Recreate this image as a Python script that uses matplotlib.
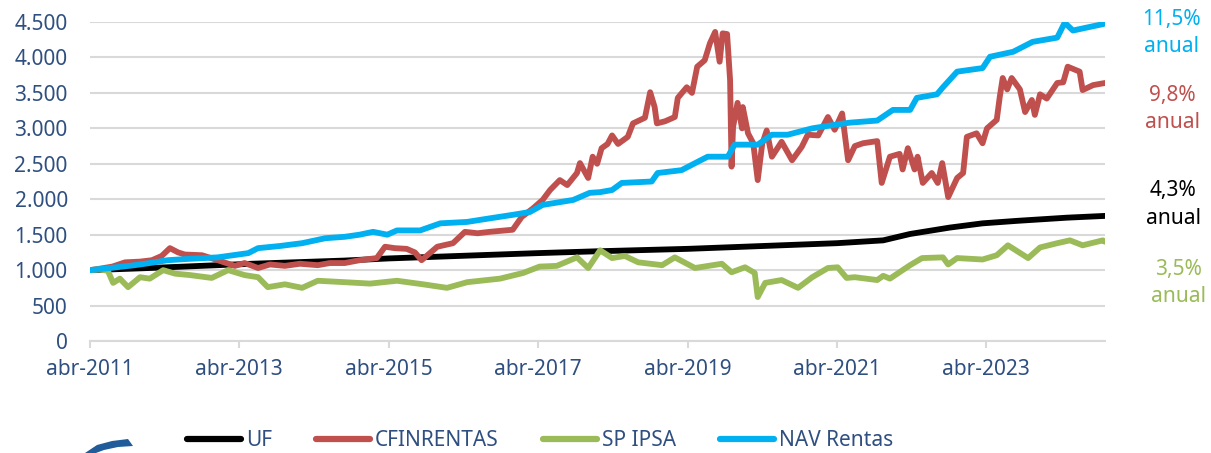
import numpy as np
import matplotlib.pyplot as plt
from matplotlib.patches import Polygon

# Series values (x in decimal years)
uf_t = [2011.25, 2012.05, 2013.42, 2014.66, 2015.25, 2017.25, 2018.01, 2019.25,
        2021.25, 2021.87, 2022.23, 2022.76, 2023.20, 2023.66, 2024.33, 2024.84]
uf_v = [1000, 1030, 1090, 1135, 1165, 1240, 1265, 1300,
        1380, 1420, 1510, 1600, 1660, 1695, 1740, 1765]

cf_t = [2011.25, 2011.38, 2011.55, 2011.72, 2011.92, 2012.08, 2012.21, 2012.32, 2012.43, 2012.52,
        2012.75, 2012.96, 2013.19, 2013.32, 2013.50, 2013.66, 2013.86, 2014.06, 2014.30, 2014.46,
        2014.66, 2014.86, 2015.09, 2015.20, 2015.33, 2015.49, 2015.60, 2015.69, 2015.90, 2016.11,
        2016.27, 2016.44, 2016.60, 2016.91, 2017.03, 2017.18, 2017.31, 2017.41, 2017.54, 2017.64,
        2017.77, 2017.81, 2017.92, 2017.98, 2018.04, 2018.10, 2018.18, 2018.24, 2018.32, 2018.45,
        2018.52, 2018.68, 2018.75, 2018.81, 2018.84, 2018.95, 2019.08, 2019.12, 2019.24, 2019.31,
        2019.38, 2019.48, 2019.55, 2019.62, 2019.68, 2019.72, 2019.78, 2019.82, 2019.84, 2019.86,
        2019.92, 2019.98, 2019.99, 2020.06, 2020.13, 2020.19, 2020.25, 2020.31, 2020.38, 2020.51,
        2020.65, 2020.78, 2020.86, 2021.00, 2021.13, 2021.22, 2021.32, 2021.40, 2021.49, 2021.60,
        2021.79, 2021.85, 2021.96, 2022.09, 2022.13, 2022.20, 2022.29, 2022.33, 2022.40, 2022.52,
        2022.60, 2022.66, 2022.74, 2022.86, 2022.94, 2022.99, 2023.12, 2023.20, 2023.26, 2023.39,
        2023.43, 2023.47, 2023.53, 2023.59, 2023.70, 2023.77, 2023.86, 2023.90, 2023.97, 2024.06,
        2024.20, 2024.28, 2024.34, 2024.50, 2024.54, 2024.68, 2024.84]
cf_v = [1000, 1020, 1050, 1110, 1120, 1140, 1200, 1310, 1250, 1220,
        1210, 1140, 1060, 1100, 1030, 1080, 1060, 1090, 1070, 1100,
        1100, 1140, 1170, 1330, 1310, 1300, 1250, 1140, 1330, 1380,
        1540, 1520, 1540, 1570, 1750, 1870, 1990, 2130, 2270, 2200,
        2370, 2510, 2300, 2600, 2500, 2720, 2780, 2900, 2780, 2880,
        3070, 3150, 3510, 3300, 3070, 3100, 3160, 3430, 3580, 3500,
        3870, 3960, 4200, 4360, 3940, 4340, 4330, 3680, 2460, 3020,
        3360, 3000, 3300, 2930, 2790, 2270, 2780, 2970, 2600, 2810,
        2550, 2740, 2910, 2900, 3160, 2980, 3210, 2550, 2750, 2790,
        2820, 2230, 2600, 2640, 2420, 2720, 2420, 2600, 2230, 2370,
        2230, 2510, 2030, 2300, 2370, 2880, 2930, 2790, 3000, 3120,
        3440, 3710, 3550, 3710, 3550, 3230, 3400, 3190, 3480, 3420,
        3640, 3650, 3870, 3800, 3540, 3610, 3640]

ipsa_t = [2011.25, 2011.38, 2011.49, 2011.56, 2011.65, 2011.76, 2011.92, 2012.05, 2012.23, 2012.39,
          2012.59, 2012.88, 2013.10, 2013.32, 2013.50, 2013.63, 2013.86, 2014.09, 2014.30, 2014.66,
          2015.00, 2015.36, 2015.71, 2016.03, 2016.30, 2016.74, 2017.05, 2017.27, 2017.50, 2017.77,
          2017.92, 2018.08, 2018.24, 2018.41, 2018.59, 2018.91, 2019.08, 2019.35, 2019.71, 2019.84,
          2020.02, 2020.15, 2020.19, 2020.29, 2020.51, 2020.73, 2020.92, 2021.13, 2021.26, 2021.38,
          2021.49, 2021.79, 2021.87, 2021.96, 2022.23, 2022.39, 2022.67, 2022.74, 2022.86, 2023.20,
          2023.39, 2023.54, 2023.81, 2023.97, 2024.20, 2024.37, 2024.54, 2024.81, 2024.84]
ipsa_v = [1000, 1010, 990, 820, 880, 760, 900, 880, 1000, 950,
          930, 890, 1000, 930, 900, 760, 800, 750, 850, 830,
          810, 850, 800, 750, 830, 880, 960, 1050, 1060, 1180,
          1030, 1280, 1170, 1200, 1110, 1070, 1180, 1030, 1090, 970,
          1040, 960, 620, 820, 860, 750, 900, 1030, 1040, 890,
          900, 860, 920, 880, 1070, 1170, 1180, 1080, 1170, 1150,
          1210, 1350, 1170, 1320, 1380, 1420, 1350, 1420, 1400]

nav_t = [2011.25, 2011.52, 2011.85, 2012.05, 2012.29, 2012.59, 2012.96, 2013.37, 2013.50, 2013.79,
         2014.09, 2014.40, 2014.66, 2014.86, 2015.04, 2015.23, 2015.36, 2015.67, 2015.94, 2016.30,
         2016.60, 2016.91, 2017.14, 2017.31, 2017.72, 2017.94, 2018.08, 2018.24, 2018.37, 2018.77,
         2018.85, 2019.17, 2019.39, 2019.52, 2019.79, 2019.88, 2020.19, 2020.38, 2020.59, 2020.92,
         2021.22, 2021.42, 2021.79, 2022.00, 2022.23, 2022.32, 2022.59, 2022.67, 2022.86, 2023.20,
         2023.30, 2023.61, 2023.87, 2024.20, 2024.30, 2024.41, 2024.81, 2024.84]
nav_v = [1000, 1030, 1070, 1100, 1140, 1160, 1180, 1240, 1310, 1340,
         1380, 1450, 1470, 1500, 1540, 1500, 1560, 1560, 1660, 1680,
         1730, 1780, 1820, 1920, 1990, 2090, 2100, 2130, 2230, 2250,
         2370, 2410, 2530, 2600, 2600, 2770, 2770, 2910, 2910, 3000,
         3050, 3080, 3110, 3260, 3260, 3430, 3480, 3580, 3800, 3850,
         4010, 4080, 4220, 4280, 4490, 4380, 4470, 4480]

tick_years = [2011, 2013, 2015, 2017, 2019, 2021, 2023]
annual = ["11,5%", "9,8%", "4,3%", "3,5%"]

txt = '#2F4F80'
grey = '#D9D9D9'
plt.rcParams['font.family'] = ['Noto Sans', 'DejaVu Sans']

fig = plt.figure(figsize=(12.11, 4.53), dpi=100)
ax = fig.add_axes([0.0743, 0.2472, 0.9125 - 0.0743, 0.9514 - 0.2472])

lw = 4.2
ax.plot(uf_t, uf_v, color='black', lw=lw, label='UF', solid_capstyle='round', solid_joinstyle='round')
ax.plot(cf_t, cf_v, color='#C0504D', lw=lw, label='CFINRENTAS', solid_capstyle='round', solid_joinstyle='round')
ax.plot(ipsa_t, ipsa_v, color='#9BBB59', lw=lw, label='SP IPSA', solid_capstyle='round', solid_joinstyle='round')
ax.plot(nav_t, nav_v, color='#00B0F0', lw=lw, label='NAV Rentas', solid_capstyle='round', solid_joinstyle='round')

ax.set_xlim(2011.25, 2024.84)
ax.set_ylim(0, 4500)
ax.set_yticks(np.arange(0, 4501, 500))
ax.set_yticklabels([f"{v:,}".replace(",", ".") for v in range(0, 4501, 500)])
ax.set_xticks([y + 0.25 for y in tick_years])
ax.set_xticklabels([f"abr-{y}" for y in tick_years])

ax.grid(axis='y', color=grey, lw=1.5)
ax.set_axisbelow(True)
for s in ['top', 'right', 'left']:
    ax.spines[s].set_visible(False)
ax.spines['bottom'].set_color(grey)
ax.spines['bottom'].set_linewidth(1.5)
ax.tick_params(axis='y', length=0, pad=16, labelsize=15, labelcolor=txt)
ax.tick_params(axis='x', length=5, width=1.5, color=grey, pad=8, labelsize=15, labelcolor=txt)

# annual return notes on the right
note_colors = ['#00B0F0', '#C0504D', 'black', '#9BBB59']
note_x = [0.967, 0.968, 0.969, 0.973]
note_y = [20, 95, 191, 270]
for lab, c, nx, ny in zip(annual, note_colors, note_x, note_y):
    fig.text(nx, 1 - ny / 453, lab, color=c, fontsize=15, ha='center', va='center')
    fig.text(nx, 1 - (ny + 27) / 453, "anual", color=c, fontsize=15, ha='center', va='center')

leg = fig.legend(loc='center', bbox_to_anchor=(0.446, 0.027), ncol=4, frameon=False,
                 fontsize=15, handlelength=2.6, handletextpad=0.25, columnspacing=2.1,
                 borderaxespad=0, borderpad=0)
for t in leg.get_texts():
    t.set_color(txt)
for h in leg.get_lines():
    h.set_linewidth(4.5)

# partial logo at bottom-left corner
logo = Polygon([(85 / 1211, 0), (97 / 1211, 8 / 453), (112 / 1211, 12 / 453), (128 / 1211, 14 / 453),
                (133 / 1211, 7 / 453), (118 / 1211, 6 / 453), (104 / 1211, 3 / 453), (96 / 1211, 0)],
               closed=True, transform=fig.transFigure, color='#1F5C99', lw=0)
fig.patches.append(logo)

fig.savefig('out.png', dpi=100)
